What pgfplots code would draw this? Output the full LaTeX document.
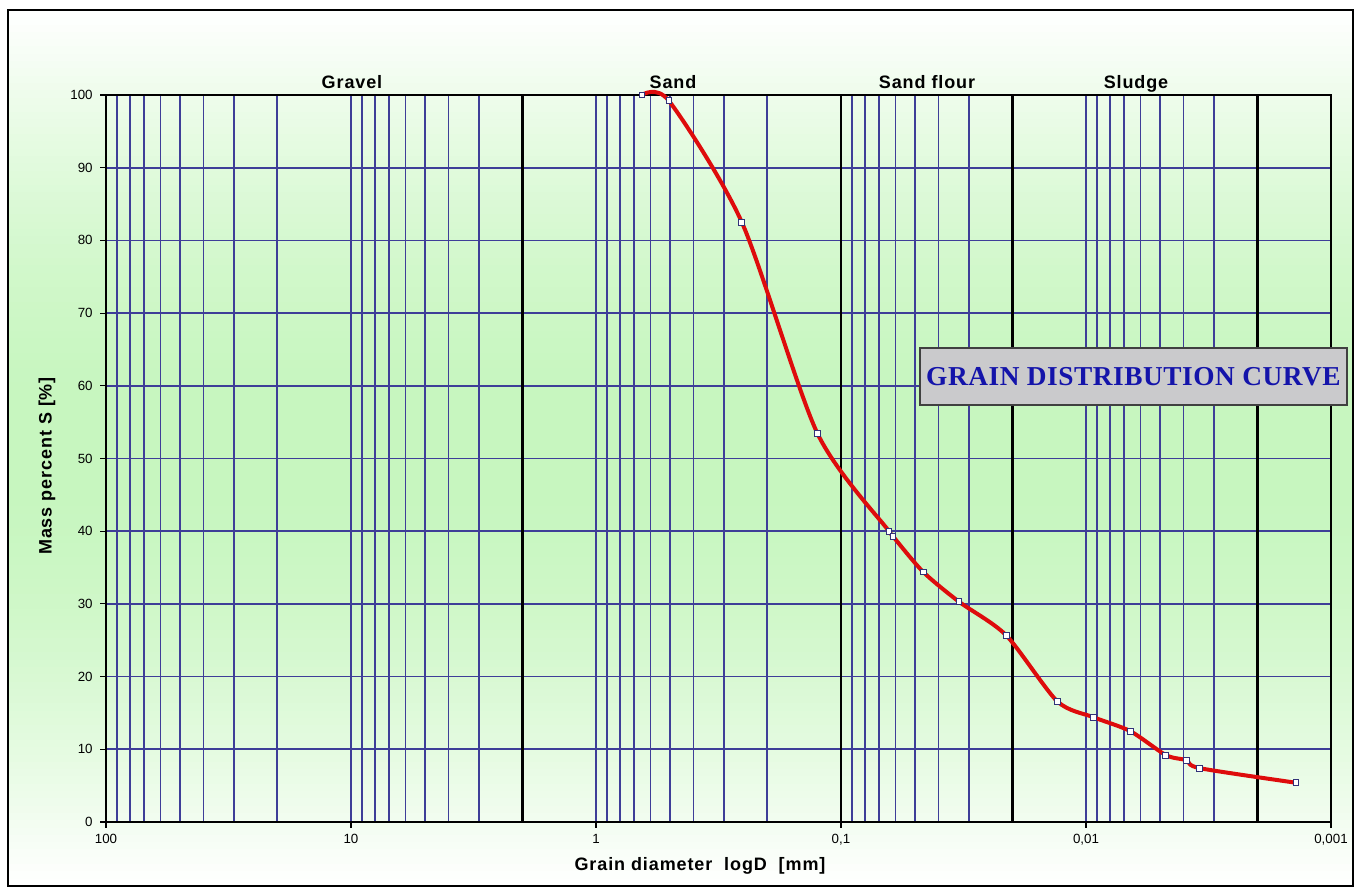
\documentclass[border=0pt]{standalone}
\usepackage{fontspec}
\setmainfont{Liberation Sans}
\newfontfamily\labelfont[LetterSpace=5]{Liberation Sans}
\newfontfamily\titlefont[LetterSpace=2]{Liberation Serif}
\usepackage{pgfplots}
\pgfplotsset{compat=1.18}
\definecolor{gridblue}{RGB}{62,62,152}
\definecolor{bggreen}{RGB}{198,246,190}
\definecolor{curvered}{RGB}{222,12,12}
\definecolor{titleblue}{RGB}{20,20,170}
\definecolor{markblue}{RGB}{50,50,120}
\definecolor{boxgray}{RGB}{202,202,204}

\pgfplotstableread{
D       S
0.649   100
0.504   99.2
0.254   82.5
0.125   53.5
0.0637  40.0
0.0614  39.3
0.0462  34.4
0.0330  30.3
0.0212  25.7
0.0131  16.6
0.0093  14.4
0.0066  12.5
0.00472 9.2
0.0039  8.5
0.00343 7.4
0.00139 5.4
}\grain

\begin{document}
\begin{tikzpicture}[x=0.75pt,y=0.75pt]
\fill[white] (-106,-73) rectangle (1259,822);
\begin{scope}
\clip (-98,-64) rectangle (1247,812);
\foreach \i in {0,...,119} {
  \pgfmathsetmacro{\ya}{-64+7.3*\i}
  \pgfmathsetmacro{\yb}{\ya+8.3}
  \pgfmathtruncatemacro{\mixf}{100*sin(1.5*(\i+0.5))}
  \fill[bggreen!\mixf!white] (-98,\ya) rectangle (1247,\yb);
}
\end{scope}
\draw[black, line width=1.1pt] (-98,-64) rectangle (1247,812);
\begin{axis}[
  at={(0,0)}, anchor=south west, scale only axis,
  width=918.75pt, height=545.25pt,
  xmode=log, x dir=reverse, xmin=0.001, xmax=100, ymin=0, ymax=100,
  xtick={0.001,0.01,0.1,1,10,100},
  xticklabels={{0,001},{0,01},{0,1},1,10,100},
  minor xtick={0.002,0.003,0.004,0.005,0.006,0.007,0.008,0.009,
               0.02,0.03,0.04,0.05,0.06,0.07,0.08,0.09,
               0.2,0.3,0.4,0.5,0.6,0.7,0.8,0.9,
               2,3,4,5,6,7,8,9,20,30,40,50,60,70,80,90},
  ytick={0,10,...,100},
  grid=both,
  major grid style={gridblue, line width=1.25pt},
  minor grid style={gridblue, line width=1.25pt},
  tick pos=left, tick align=outside,
  major tick length=4.5pt, minor tick length=0pt,
  tick style={black, line width=0.8pt},
  axis line style={black, line width=1.1pt},
  ticklabel style={font=\fontsize{10}{12}\selectfont},
  yticklabel style={xshift=-2pt},
  xticklabel style={yshift=-1pt},
  /pgf/number format/assume math mode=true,
  clip=false,
]
\addplot[black, line width=2.2pt, forget plot] coordinates {(2,0) (2,100)};
\addplot[black, line width=2.2pt, forget plot] coordinates {(0.1,0) (0.1,100)};
\addplot[black, line width=2.2pt, forget plot] coordinates {(0.02,0) (0.02,100)};
\addplot[black, line width=2.2pt, forget plot] coordinates {(0.002,0) (0.002,100)};
\addplot[curvered, line width=3pt, smooth, tension=0.45, mark=square*,
  mark options={fill=white, draw=markblue, line width=0.7pt, solid}, mark size=2.2pt]
  table[x=D, y=S] {\grain};
\end{axis}
\node[font=\labelfont\bfseries\fontsize{13.5}{16}\selectfont, anchor=base] at (246,733) {Gravel};
\node[font=\labelfont\bfseries\fontsize{13.5}{16}\selectfont, anchor=base] at (567,733) {Sand};
\node[font=\labelfont\bfseries\fontsize{13.5}{16}\selectfont, anchor=base] at (821,733) {Sand flour};
\node[font=\labelfont\bfseries\fontsize{13.5}{16}\selectfont, anchor=base] at (1030,733) {Sludge};
\node[font=\labelfont\bfseries\fontsize{13.5}{16}\selectfont, rotate=90] at (-59,356) {Mass percent S [\%]};
\node[font=\labelfont\bfseries\fontsize{13.5}{16}\selectfont] at (594,-44) {Grain diameter\ \ logD\ \ [mm]};
\fill[boxgray] (814,417) rectangle (1241,474);
\draw[black!75, line width=1.2pt] (814,417) rectangle (1241,474);
\node[font=\titlefont\bfseries\fontsize{20.5}{24}\selectfont, text=titleblue] at (1027.5,445.5) {GRAIN DISTRIBUTION CURVE};
\end{tikzpicture}
\end{document}
